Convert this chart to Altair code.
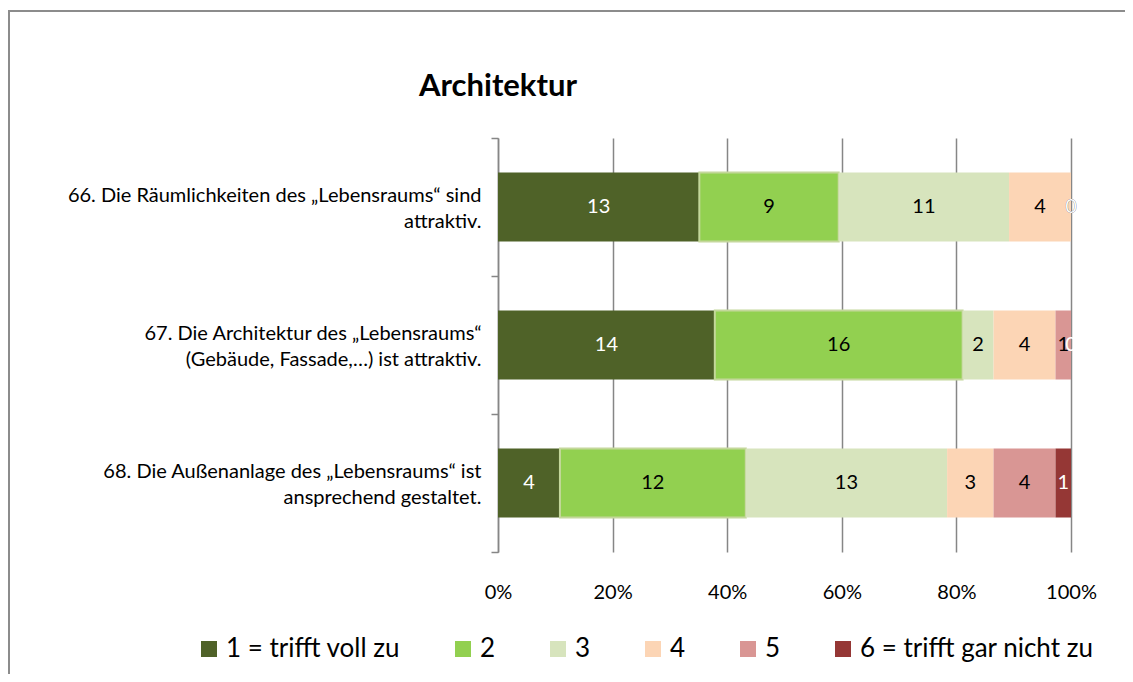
import altair as alt
import pandas as pd

title_text = "Architektur"
questions = [
    "66. Die Räumlichkeiten des „Lebensraums“ sind|attraktiv.",
    "67. Die Architektur des „Lebensraums“|(Gebäude, Fassade,…) ist attraktiv.",
    "68. Die Außenanlage des „Lebensraums“ ist|ansprechend gestaltet.",
]
categories = ["1 = trifft voll zu", "2", "3", "4", "5", "6 = trifft gar nicht zu"]
cat1 = [13, 14, 4]
cat2 = [9, 16, 12]
cat3 = [11, 2, 13]
cat4 = [4, 4, 3]
cat5 = [0, 1, 4]
cat6 = [0, 0, 1]
colors = ["#4F6228", "#92D050", "#D7E4BD", "#FCD5B5", "#D99694", "#953735"]
x_ticks = [0, 0.2, 0.4, 0.6, 0.8, 1.0]

series = [cat1, cat2, cat3, cat4, cat5, cat6]
rows = []
for ci, (cat, vals) in enumerate(zip(categories, series)):
    for q, v in zip(questions, vals):
        rows.append({"question": q, "cat": cat, "idx": ci, "count": v})
df = pd.DataFrame(rows)

FONT = "Lato"
GRID = "#868686"

y_enc = alt.Y(
    "question:N",
    sort=questions,
    scale=alt.Scale(paddingInner=0, paddingOuter=0),
    axis=alt.Axis(
        title=None,
        labelExpr="split(datum.label, '|')",
        labelAlign="right",
        labelBaseline="middle",
        labelFont=FONT,
        labelFontSize=20,
        labelColor="#000000",
        labelLimit=0,
        labelPadding=10,
        labelLineHeight=26,
        labelOffset=-12,
        domainColor=GRID,
        domainWidth=1.5,
        tickColor=GRID,
        tickWidth=1.5,
        tickSize=7,
        tickBand="extent",
        grid=False,
    ),
)

base = alt.Chart(df)

bars = base.mark_bar(strokeWidth=2, height={"band": 0.5}).encode(
    y=y_enc,
    x=alt.X(
        "count:Q",
        stack="normalize",
        scale=alt.Scale(domain=[0, 1], nice=False),
        axis=alt.Axis(
            title=None,
            format="%",
            values=x_ticks,
            domain=False,
            ticks=False,
            grid=True,
            gridColor=GRID,
            gridWidth=1.5,
            labelFont=FONT,
            labelFontSize=20,
            labelColor="#000000",
            labelPadding=30,
            labelFlush=False,
        ),
    ),
    color=alt.Color(
        "cat:N",
        sort=categories,
        scale=alt.Scale(domain=categories, range=colors),
        legend=alt.Legend(
            title=None,
            orient="none",
            legendX=-302,
            legendY=498,
            direction="horizontal",
            columns=6,
            columnPadding=49,
            symbolType="square",
            symbolSize=256,
            symbolStrokeWidth=0,
            symbolOpacity=1,
            labelFont=FONT,
            labelFontSize=26,
            labelColor="#000000",
            labelOffset=4,
            labelLimit=0,
        ),
    ),
    stroke=alt.condition("datum.idx == 1", alt.value("#C4D79B"), alt.value("transparent")),
    order=alt.Order("idx:Q"),
)

labels = (
    base.transform_joinaggregate(total="sum(count)", groupby=["question"])
    .transform_window(cum="sum(count)", sort=[alt.SortField("idx")], groupby=["question"], frame=[None, 0])
    .transform_calculate(mid="(datum.cum - datum.count / 2) / datum.total")
    .mark_text(font=FONT, fontSize=20, baseline="middle")
    .encode(
        y=alt.Y("question:N", sort=questions),
        x=alt.X("mid:Q"),
        text=alt.Text("count:Q"),
        color=alt.condition("datum.idx == 0 || datum.idx == 5", alt.value("#FFFFFF"), alt.value("#000000")),
    )
)

title = alt.Chart(alt.Data(values=[{"t": title_text}])).mark_text(
    font=FONT, fontSize=31, fontWeight="bold", color="#000000", align="center", baseline="middle"
).encode(x=alt.value(0), y=alt.value(-51), text="t:N")

frame = alt.Chart(alt.Data(values=[{"f": 1}])).mark_rect(
    filled=False, stroke="#8C8C8C", strokeWidth=2
).encode(
    x=alt.value(-489), x2=alt.value(700), y=alt.value(-127), y2=alt.value(600)
)

chart = (
    alt.layer(frame, bars, labels, title)
    .properties(
        width=573,
        height=414,
        padding={"left": 490, "top": 130, "right": 54, "bottom": 122},
        autosize="none",
        background="#FFFFFF",
    )
    .configure_view(stroke=None)
)

chart.save("out.html", embed_options={"renderer": "svg", "actions": False})
